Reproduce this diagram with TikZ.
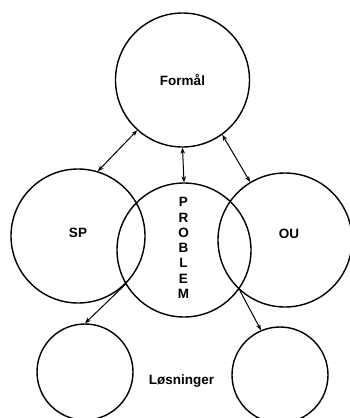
\documentclass[tikz,border=0pt]{standalone}
\usepackage{fontspec}
\setmainfont{Liberation Sans}
\usetikzlibrary{arrows.meta}
\begin{document}
\begin{tikzpicture}[x=1pt,y=-1pt,
  ring/.style={circle,draw,line width=1.4pt,inner sep=0pt},
  big/.style={ring,minimum size=134pt},
  small/.style={ring,minimum size=96pt},
  lbl/.style={font=\fontsize{13.5}{15.3}\selectfont\bfseries},
  link/.style={line width=1pt,{Stealth[length=6pt,width=4.5pt]}-{Stealth[length=6pt,width=4.5pt]}},
  oneway/.style={line width=1pt,-{Stealth[length=6pt,width=4.5pt]}}]
\useasboundingbox (0,0) rectangle (350,418);
\node[big] (F) at (182.5,80) {};
\node[big] (SP) at (78,236) {};
\node[big] (P) at (184,250) {};
\node[big] (OU) at (285,240) {};
\node[small] (L1) at (85,372) {};
\node[small] (L2) at (280,375) {};
\node[lbl] (tF) at (F.center) {Formål};
\node[lbl] (tSP) at (78,233) {SP};
\node[lbl] (tOU) at (289,234) {OU};
\node[lbl,align=center] (tP) at (183.5,248) {P\\R\\O\\B\\L\\E\\M};
\node[lbl] (tL) at (181.5,381) {Løsninger};
\draw[link] (F.228) -- (SP.73);
\draw[link] (F.south) -- (P.north);
\draw[link] (F.306) -- (OU.121);
\draw[oneway] (SP.315) -- (L1.north);
\draw[oneway] (OU.228) -- (L2.113);
\end{tikzpicture}
\end{document}
